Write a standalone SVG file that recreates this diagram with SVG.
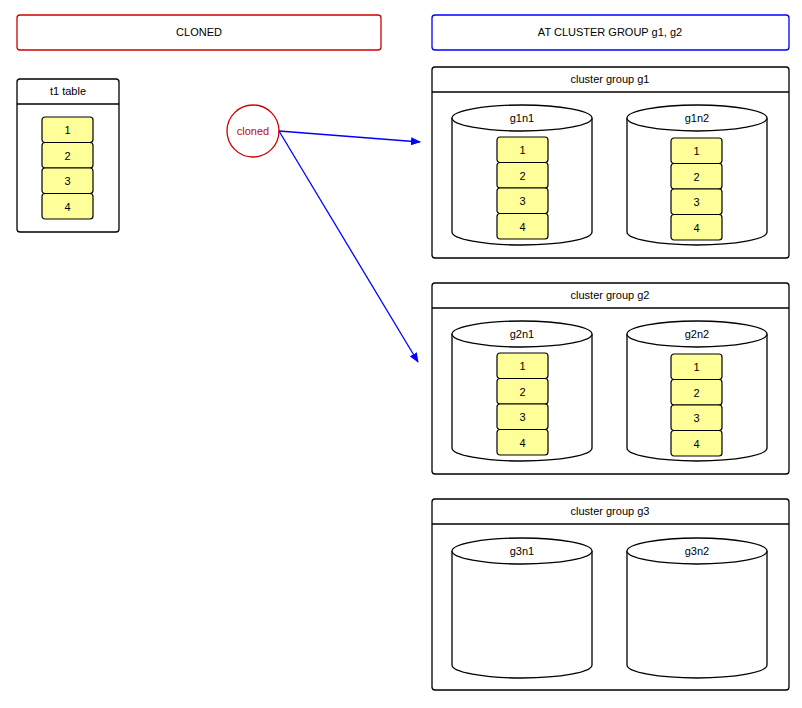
<svg xmlns="http://www.w3.org/2000/svg" width="802" height="708" viewBox="0 0 802 708">
<style>
text{font-family:"Liberation Sans",Arial,sans-serif;font-size:11px;text-anchor:middle;fill:#000}
.box{fill:#fff;stroke:#000;stroke-width:1.3}
.cell{fill:#ffff99;stroke:#000;stroke-width:1.2}
.cyl{fill:#fff;stroke:#000;stroke-width:1.3}
.conn{stroke:#0000ff;stroke-width:1.3;fill:none;marker-end:url(#ah)}
</style>
<defs>
<marker id="ah" markerWidth="10" markerHeight="8" refX="9" refY="4" orient="auto" markerUnits="userSpaceOnUse"><path d="M0,0 L10,4 L0,8 Z" fill="#0000ff"/></marker>
<g id="cells">
<rect class="cell" x="0" y="0" width="51" height="25.5" rx="3"/><text x="25.5" y="17">1</text>
<rect class="cell" x="0" y="25.5" width="51" height="25.5" rx="3"/><text x="25.5" y="42.5">2</text>
<rect class="cell" x="0" y="51" width="51" height="25.5" rx="3"/><text x="25.5" y="68">3</text>
<rect class="cell" x="0" y="76.5" width="51" height="25.5" rx="3"/><text x="25.5" y="93.5">4</text>
</g>
<g id="cylshape">
<path class="cyl" d="M0,13 L0,127 A70,13 0 0 0 140,127 L140,13"/>
<ellipse class="cyl" cx="70" cy="13" rx="70" ry="13"/>
</g>
</defs>
<g id="hdr-cloned"><rect x="17" y="15" width="364" height="35" rx="3" fill="#fff" stroke="#cc0000" stroke-width="1.3"/><text x="199" y="36">CLONED</text></g>
<g id="hdr-at"><rect x="432" y="15" width="357" height="35" rx="3" fill="#fff" stroke="#0000ff" stroke-width="1.3"/><text x="610" y="36">AT CLUSTER GROUP g1, g2</text></g>
<g id="t1"><rect class="box" x="17" y="79" width="102" height="153" rx="3"/><line x1="17" y1="104" x2="119" y2="104" stroke="#000" stroke-width="1.3"/><text x="68" y="95">t1 table</text><use href="#cells" x="42" y="117"/></g>
<g id="cloned"><circle cx="253" cy="131" r="26" fill="#fff" stroke="#cc0000" stroke-width="1.3"/><text x="253" y="135" style="fill:#cc0000">cloned</text></g>
<g id="g1"><rect class="box" x="432" y="67" width="357" height="191" rx="3"/><line x1="432" y1="92" x2="789" y2="92" stroke="#000" stroke-width="1.3"/><text x="610" y="83">cluster group g1</text></g>
<g id="g1n1"><use href="#cylshape" x="452" y="105"/><text x="522" y="122">g1n1</text><use href="#cells" x="497" y="137"/></g>
<g id="g1n2"><use href="#cylshape" x="627" y="105"/><text x="697" y="122">g1n2</text><use href="#cells" x="671" y="138"/></g>
<g id="g2"><rect class="box" x="432" y="283" width="357" height="191" rx="3"/><line x1="432" y1="308" x2="789" y2="308" stroke="#000" stroke-width="1.3"/><text x="610" y="299">cluster group g2</text></g>
<g id="g2n1"><use href="#cylshape" x="452" y="321"/><text x="522" y="338">g2n1</text><use href="#cells" x="497" y="353"/></g>
<g id="g2n2"><use href="#cylshape" x="627" y="321"/><text x="697" y="338">g2n2</text><use href="#cells" x="671" y="354"/></g>
<g id="g3"><rect class="box" x="432" y="499" width="357" height="191" rx="3"/><line x1="432" y1="524" x2="789" y2="524" stroke="#000" stroke-width="1.3"/><text x="610" y="515">cluster group g3</text></g>
<g id="g3n1"><use href="#cylshape" x="452" y="538"/><text x="522" y="555">g3n1</text></g>
<g id="g3n2"><use href="#cylshape" x="627" y="538"/><text x="697" y="555">g3n2</text></g>
<g id="connectors">
<line class="conn" x1="279" y1="131" x2="420" y2="142"/>
<line class="conn" x1="279" y1="131" x2="418" y2="362"/>
</g>
</svg>
